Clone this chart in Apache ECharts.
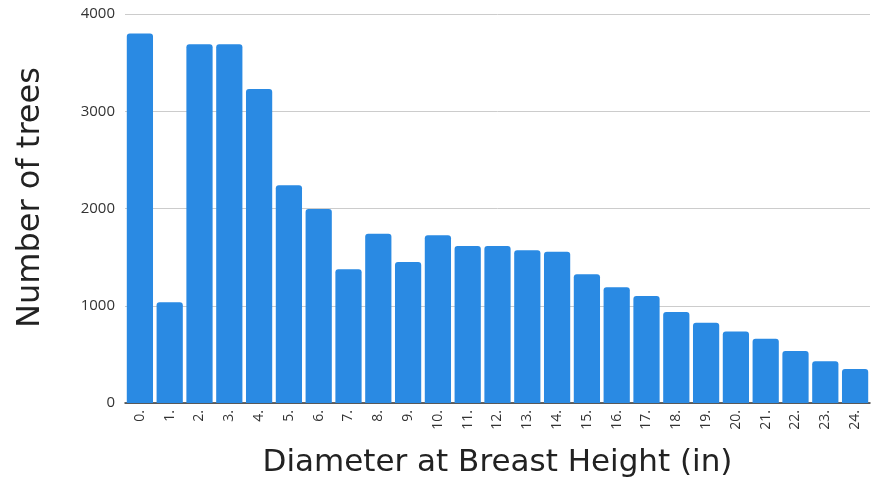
<!DOCTYPE html>
<html>
<head>
<meta charset="utf-8">
<script src="https://cdn.jsdelivr.net/npm/echarts@6/dist/echarts.min.js"></script>
<style>
html,body{margin:0;padding:0;background:#fff;}
#chart{width:871px;height:482px;}
</style>
</head>
<body>
<div id="chart"></div>
<script>
const categories = ["0.","1.","2.","3.","4.","5.","6.","7.","8.","9.","10.","11.","12.","13.","14.","15.","16.","17.","18.","19.","20.","21.","22.","23.","24."];
const treeCounts = [3800,1035,3690,3690,3230,2240,1995,1375,1740,1450,1725,1615,1615,1570,1555,1325,1190,1100,935,825,735,660,535,430,350];
const yTicks = [0,1000,2000,3000,4000];

const chart = echarts.init(document.getElementById('chart'));
chart.setOption({
  animation:false,
  backgroundColor:'#ffffff',
  grid:{left:125,right:1,top:14,bottom:79,containLabel:false,outerBoundsMode:'none'},
  xAxis:{
    type:'category',
    data:categories,
    name:'Diameter at Breast Height (in)',
    nameLocation:'middle',
    nameGap:44,
    nameTextStyle:{fontFamily:'DejaVu Sans',fontSize:31,color:'#222'},
    axisLine:{lineStyle:{color:'#333',width:1.5}},
    axisTick:{show:false},
    axisLabel:{rotate:90,fontSize:14,color:'#333',fontFamily:'Open Sans',margin:7,interval:0},
  },
  yAxis:{
    type:'value',
    min:yTicks[0],max:yTicks[yTicks.length-1],interval:1000,
    name:'Number of trees',
    nameLocation:'middle',
    nameGap:78,
    nameRotate:90,
    nameTextStyle:{fontFamily:'DejaVu Sans',fontSize:32,color:'#222',padding:[0,0,0,22]},
    axisLine:{show:false},
    axisTick:{show:false},
    axisLabel:{fontSize:15,color:'#333',fontFamily:'Open Sans',margin:10,formatter:function(v){return String(v);}},
    splitLine:{lineStyle:{color:'#cccccc',width:1}}
  },
  series:[{
    type:'bar',
    data:treeCounts,
    barCategoryGap:'12%',
    itemStyle:{color:'#2a8ae3',borderRadius:[3,3,0,0]}
  }]
});
</script>
</body>
</html>
